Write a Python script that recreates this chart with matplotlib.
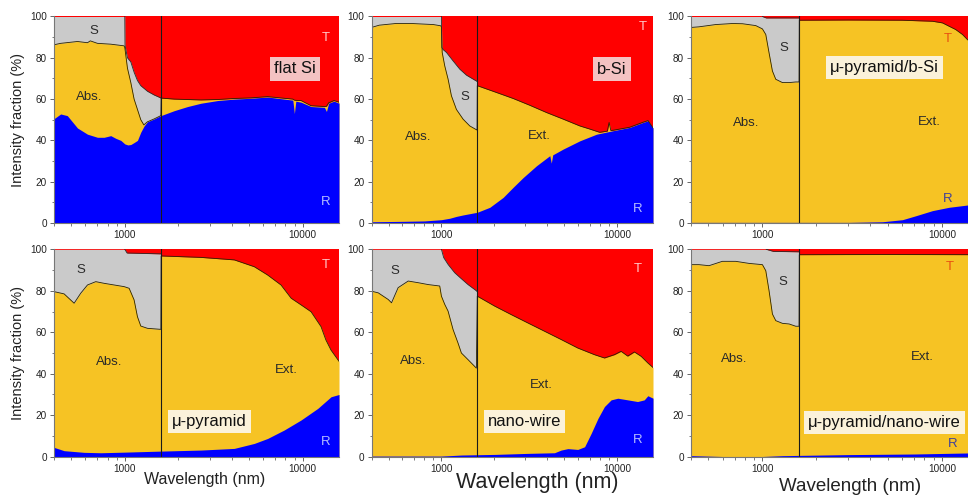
import matplotlib
matplotlib.use("Agg")
import matplotlib.pyplot as plt
from matplotlib.ticker import FixedLocator, FixedFormatter, NullFormatter, LogLocator, MultipleLocator

plt.rcParams['font.family'] = ['Liberation Sans', 'DejaVu Sans']

# ---------------- data (wavelength in nm, cumulative boundaries in %) ----------------
# Panel 1: flat Si
FLAT_R_WL = [400, 436, 475, 542, 617, 702, 765, 834, 890, 950, 1000, 1040, 1081, 1130, 1178, 1230, 1284, 1340,
             1462, 1595, 1896, 2254, 2680, 3324, 4125, 5118, 6352, 7882, 8800, 8980, 9150, 9790, 11140, 13250,
             13600, 14000, 15000, 16000]
FLAT_R = [50.5, 52.8, 52, 46, 43, 41.5, 41.5, 42.3, 41, 40, 38.3, 37.8, 38, 39, 40, 44, 47, 49,
          50.4, 52, 54.4, 56.4, 58, 59.3, 60, 60.4, 61, 60, 59.5, 53, 59, 58.5, 56.4, 56,
          54, 58, 59, 58]
FLAT_A_WL = [400, 436, 542, 617, 640, 702, 834, 990, 1000, 1035, 1081, 1128, 1178, 1230, 1280, 1340, 1462,
             1595, 1600, 1896, 2254, 2680, 3324, 4125, 5118, 6352, 7882, 8800, 8980, 9150, 9790, 11140, 13250,
             13600, 14000, 15000, 16000]
FLAT_A_TOP = [86.3, 87, 87.9, 87.3, 88.2, 87, 86.6, 85.8, 85, 75, 68, 60, 55, 50, 47.5, 49, 50.4,
              52, 60.5, 60, 59.8, 59.6, 59.8, 60.3, 60.6, 61.2, 60.4, 60, 59.5, 59.4, 59.3, 56.8, 56.4,
              56.5, 58.2, 59.3, 58.5]
FLAT_S_WL = [400, 998, 1000, 1003, 1035, 1081, 1128, 1178, 1230, 1341, 1462, 1600]
FLAT_S_TOP = [100, 100, 100, 86, 80, 78, 73, 69, 66.5, 63.8, 62, 60.5]

# Panel 2: b-Si
BSI_R_WL = [400, 600, 800, 1000, 1115, 1217, 1328, 1600, 1885, 2245, 2560, 2917, 3474, 4139, 4220, 4300,
            4930, 6134, 7631, 9494, 11813, 14040, 14990, 16000]
BSI_R = [0.6, 0.8, 1.0, 1.6, 2.3, 3.2, 3.9, 5.2, 7.6, 12.4, 17.3, 22, 27.7, 32.6, 29, 33,
         35.8, 39.8, 43, 44.7, 46.3, 48.7, 49.5, 46]
BSI_A_WL = [400, 443, 549, 680, 900, 990, 1000, 1010, 1045, 1091, 1140, 1217, 1328, 1450, 1595, 1600, 2058,
            2560, 3185, 3963, 4930, 6134, 6985, 7960, 8800, 9000, 9200, 9494, 11813, 14040, 14990, 16000]
BSI_A_TOP = [94.7, 95.8, 96.6, 96.6, 96.1, 95.5, 95, 82.6, 76, 69.7, 61.6, 55, 50.3, 47, 45, 66.5, 63.2,
             60.3, 57, 53.5, 50.3, 47, 45.5, 43.9, 44.5, 48.7, 44.8, 44.9, 46.4, 48.8, 49.6, 46.1]
BSI_S_WL = [400, 998, 1000, 1005, 1022, 1068, 1165, 1272, 1388, 1514, 1600]
BSI_S_TOP = [100, 100, 100, 85, 84, 82.6, 78.5, 74.5, 71.6, 69.7, 68.5]

# Panel 3: micro-pyramid / b-Si
PBSI_R_WL = [400, 1000, 2000, 3040, 4665, 6030, 7150, 8870, 10960, 13850, 16000]
PBSI_R = [0.3, 0.3, 0.3, 0.3, 0.6, 1.6, 3.5, 6, 7.6, 8.7, 9.5]
PBSI_A_WL = [400, 443, 549, 680, 774, 918, 1000, 1044, 1089, 1137, 1187, 1293, 1408, 1534, 1600, 1605,
             3000, 6000, 8870, 10080, 10960, 11930, 13020, 13850, 15000, 16000]
PBSI_A_TOP = [94.7, 95, 96.1, 96.6, 96.5, 95.6, 94, 91.3, 82.4, 73.6, 69.6, 68, 68, 68.3, 68.3, 98.2,
              98.3, 98.2, 97.7, 96.9, 95.3, 93.7, 91.3, 88.9, 86.5, 84.5]
PBSI_S_WL = [400, 1000, 1050, 1600]
PBSI_S_TOP = [100, 100, 99.3, 99.3]

# Panel 4: micro-pyramid
PYR_R_WL = [400, 456, 590, 733, 1000, 1595, 2680, 4125, 5346, 6352, 7882, 9790, 12160, 14430, 16000]
PYR_R = [4.5, 2.9, 2.1, 1.9, 2.2, 2.7, 3.2, 4, 6.4, 8.8, 12.9, 17.7, 23.3, 28.9, 30]
PYR_A_WL = [400, 456, 519, 565, 617, 687, 765, 871, 992, 1058, 1128, 1178, 1230, 1341, 1595, 1600, 2680,
            4125, 5346, 6352, 7550, 8614, 9790, 11140, 12680, 13500, 14430, 16000]
PYR_A_TOP = [79.6, 78.5, 74, 78.8, 82.8, 84.4, 83.6, 82.8, 82, 81.2, 75.6, 67.5, 63, 61.9, 61.4, 96.8, 96.1,
             94.9, 91.6, 87.6, 82.8, 76.4, 73.2, 69.9, 62.7, 56.3, 51.4, 46]
PYR_S_WL = [400, 1000, 1030, 1600]
PYR_S_TOP = [100, 100, 98.2, 97.8]

# Panel 5: nano-wire
NW_R_WL = [400, 1000, 1300, 2010, 3100, 4400, 4800, 5245, 5970, 6530, 7120, 7780, 8470, 9240, 10090, 11490,
           13070, 14260, 14950, 16000]
NW_R = [0.3, 0.3, 0.8, 1.1, 1.6, 1.9, 3.2, 3.9, 3.5, 4.8, 11.3, 18.5, 24.2, 27.4, 28.2, 27.4,
        26.6, 27.4, 29.4, 28.2]
NW_A_WL = [400, 437, 498, 520, 567, 647, 737, 840, 978, 1000, 1045, 1091, 1165, 1243, 1299, 1417, 1581, 1600,
           2010, 2497, 3102, 3860, 4800, 5970, 7425, 8470, 9660, 10530, 11490, 12540, 13690, 14950, 16000]
NW_A_TOP = [79.8, 79, 75.8, 74.2, 81.5, 84.7, 83.9, 83, 82.3, 77.4, 73.4, 70.2, 61.3, 54.8, 50, 46.8, 42.7, 77.4,
            72.6, 68.5, 64.5, 60.5, 56.5, 52.4, 49.2, 47.6, 49.2, 50.8, 48.5, 50.5, 48.4, 45.2, 43]
NW_S_WL = [400, 1000, 1030, 1091, 1190, 1299, 1417, 1581, 1600]
NW_S_TOP = [100, 100, 96, 92.7, 88.7, 85.8, 83, 80, 79.5]

# Panel 6: micro-pyramid / nano-wire
PNW_R_WL = [400, 600, 1000, 1300, 3000, 7000, 16000]
PNW_R = [0.5, 0.1, 0.1, 0.5, 1.0, 1.3, 1.9]
PNW_A_WL = [400, 443, 504, 598, 710, 843, 1000, 1044, 1089, 1137, 1187, 1293, 1408, 1534, 1600, 1605, 5000, 16000]
PNW_A_TOP = [92.6, 92.6, 92.1, 94.2, 94.2, 93.2, 92.6, 89.7, 80, 68.8, 65.6, 64.3, 64, 62.9, 62.9, 97.4, 97.5, 97.4]
PNW_S_WL = [400, 1050, 1150, 1600]
PNW_S_TOP = [100, 100, 99, 98.8]

SAMPLE_NAMES = ["flat Si", "b-Si", "\u03bc-pyramid/b-Si", "\u03bc-pyramid", "nano-wire", "\u03bc-pyramid/nano-wire"]
CUTOFF_WL = 1600
X_TICKS = [1000, 10000]
X_TICK_LABELS = ["1000", "10000"]
Y_TICKS = [0, 20, 40, 60, 80, 100]

RED, YEL, GRAY, BLUE = '#ff0000', '#f6c324', '#cacaca', '#0000ff'

# ---------------- layout ----------------
W, H = 968, 497
fig = plt.figure(figsize=(W / 100, H / 100), dpi=100)

col_px = [(54, 285), (371.5, 281.5), (691, 287.5)]
row_px = [(16.5, 223.0), (249.3, 456.7)]

panels = [
    (FLAT_R_WL, FLAT_R, FLAT_A_WL, FLAT_A_TOP, FLAT_S_WL, FLAT_S_TOP),
    (BSI_R_WL, BSI_R, BSI_A_WL, BSI_A_TOP, BSI_S_WL, BSI_S_TOP),
    (PBSI_R_WL, PBSI_R, PBSI_A_WL, PBSI_A_TOP, PBSI_S_WL, PBSI_S_TOP),
    (PYR_R_WL, PYR_R, PYR_A_WL, PYR_A_TOP, PYR_S_WL, PYR_S_TOP),
    (NW_R_WL, NW_R, NW_A_WL, NW_A_TOP, NW_S_WL, NW_S_TOP),
    (PNW_R_WL, PNW_R, PNW_A_WL, PNW_A_TOP, PNW_S_WL, PNW_S_TOP),
]

light_T, light_R = '#ffc8c8', '#b4bcff'
dark_T, dark_R = '#e85010', '#40409a'
pink_box, cream_box = '#f4c2c2', '#fbf2da'

# per-panel annotation positions (wavelength, %)
annots = [
    dict(S=(670, 93), A=(630, 61), E=None, T=(13500, 89.5), R=(13500, 10), box=(9000, 74.6),
         tc=light_T, rc=light_R, bc=pink_box),
    dict(S=(1358, 61), A=(736, 41.5), E=(3600, 42), T=(14040, 94.7), R=(13160, 6.8), box=(9300, 74.5),
         tc=light_T, rc=light_R, bc=pink_box),
    dict(S=(1320, 84.9), A=(807, 48.3), E=(8500, 49), T=(10770, 89), R=(10770, 11.6), box=(4770, 75.2),
         tc=dark_T, rc=dark_R, bc=cream_box),
    dict(S=(565, 90), A=(816, 45.8), E=(8040, 41.8), T=(13500, 92.4), R=(13500, 7.2), box=(2980, 16.9),
         tc=light_T, rc=light_R, bc=cream_box),
    dict(S=(543, 89.5), A=(690, 46), E=(3700, 34.7), T=(13070, 90.3), R=(13070, 8), box=(2970, 17),
         tc=light_T, rc=light_R, bc=cream_box),
    dict(S=(1293, 84), A=(695, 47), E=(7800, 48.2), T=(11000, 91.3), R=(11500, 6.1), box=(4770, 16.6),
         tc=dark_T, rc=dark_R, bc=cream_box),
]

xlabel_cfg = {3: (0.53, -0.074, 11.5), 4: (0.589, -0.074, 15.5), 5: (0.553, -0.103, 13.5)}

for i, (rwl, r, awl, atop, swl, stop) in enumerate(panels):
    row, col = divmod(i, 3)
    left, width = col_px[col]
    top, bottom = row_px[row]
    ax = fig.add_axes([left / W, 1 - bottom / H, width / W, (bottom - top) / H])
    ax.set_facecolor(RED)
    ax.fill_between(swl, 0, stop, color=GRAY, lw=0)
    ax.fill_between(awl, 0, atop, color=YEL, lw=0)
    ax.fill_between(rwl, 0, r, color=BLUE, lw=0)
    # boundary lines
    ax.plot(awl, atop, color='#2a2200', lw=0.6)
    sw = [w for w in swl if w >= 1000]
    st = [v for w, v in zip(swl, stop) if w >= 1000]
    ax.plot(sw, st, color='#2a2a2a', lw=0.6)
    ax.axvline(CUTOFF_WL, color='#1a1a1a', lw=0.8)

    ax.set_xscale('log')
    ax.set_xlim(400, 16000)
    ax.set_ylim(0, 100)
    ax.xaxis.set_major_locator(FixedLocator(X_TICKS))
    ax.xaxis.set_major_formatter(FixedFormatter(X_TICK_LABELS))
    ax.xaxis.set_minor_locator(LogLocator(base=10, subs=[2, 3, 4, 5, 6, 7, 8, 9]))
    ax.xaxis.set_minor_formatter(NullFormatter())
    ax.yaxis.set_major_locator(FixedLocator(Y_TICKS))
    ax.yaxis.set_minor_locator(MultipleLocator(10))
    for s in ['top', 'right']:
        ax.spines[s].set_visible(False)
    for s in ['left', 'bottom']:
        ax.spines[s].set_color('#777777')
        ax.spines[s].set_linewidth(0.8)
    ax.tick_params(which='major', direction='out', length=3, width=0.7, color='#666666',
                   labelsize=7.2, labelcolor='#222222', pad=2)
    ax.tick_params(which='minor', direction='out', length=1.8, width=0.6, color='#666666')

    if col == 0:
        ax.set_ylabel('Intensity fraction (%)', fontsize=10.5, color='#222222')
        ax.yaxis.set_label_coords(-0.102, 0.5)
    if row == 1:
        xc, yc, fs = xlabel_cfg[i]
        ax.set_xlabel('Wavelength (nm)', fontsize=fs, color='#222222')
        ax.xaxis.set_label_coords(xc, yc)
        ax.xaxis.label.set_va('top')

    a = annots[i]
    lab_kw = dict(ha='center', va='center', fontsize=9.5, color='#2a2a2a')
    ax.text(*a['S'], 'S', **lab_kw)
    ax.text(*a['A'], 'Abs.', **lab_kw)
    if a['E'] is not None:
        ax.text(*a['E'], 'Ext.', **lab_kw)
    ax.text(*a['T'], 'T', ha='center', va='center', fontsize=9.5, color=a['tc'])
    ax.text(*a['R'], 'R', ha='center', va='center', fontsize=9.5, color=a['rc'])
    ax.text(*a['box'], SAMPLE_NAMES[i], ha='center', va='center', fontsize=12, color='#111111',
            bbox=dict(boxstyle='square,pad=0.25', fc=a['bc'], ec='none'))

fig.savefig('out.png', dpi=100)
